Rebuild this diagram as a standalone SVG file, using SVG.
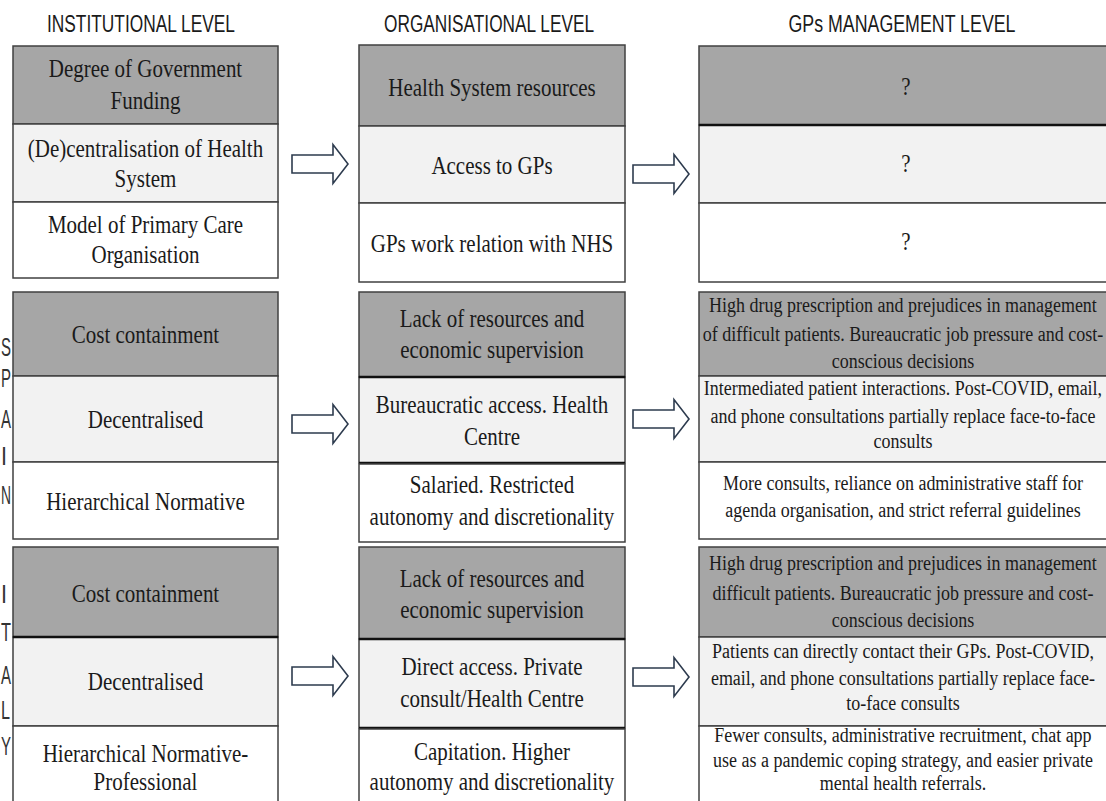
<svg xmlns="http://www.w3.org/2000/svg" width="1106" height="801" viewBox="0 0 1106 801">
<style>
.bg{fill:#ffffff}
.dk{fill:#a6a6a6;stroke:#404040;stroke-width:1.5}
.lt{fill:#f2f2f2;stroke:#404040;stroke-width:1.5}
.wh{fill:#ffffff;stroke:#404040;stroke-width:1.5}
.sep{stroke:#111111;stroke-width:2.5}
.hd{font-family:"Liberation Sans",Arial,sans-serif;font-size:23px;fill:#1a1a1a;text-anchor:middle}
.vl{font-family:"Liberation Sans",Arial,sans-serif;font-size:26px;fill:#333333;text-anchor:start}
.t{font-family:"Liberation Serif","Times New Roman",serif;font-size:21px;fill:#1a1a1a;text-anchor:middle;transform-box:fill-box;transform-origin:center;transform:scaleY(1.15)}
.s{font-family:"Liberation Serif","Times New Roman",serif;font-size:18px;fill:#1a1a1a;text-anchor:middle;transform-box:fill-box;transform-origin:center;transform:scaleY(1.2)}
.arr{fill:#ffffff;stroke:#2d3b4e;stroke-width:1.6;stroke-linejoin:miter}
</style>
<defs>
<path id="blk" class="arr" d="M0,-9 H41 V-19.5 L56,0 L41,19.5 V9 H0 Z"/>
</defs>
<rect class="bg" x="0" y="0" width="1106" height="801"/>

<g id="headers">
<text class="hd" x="141" y="32" textLength="188" lengthAdjust="spacingAndGlyphs">INSTITUTIONAL LEVEL</text>
<text class="hd" x="489" y="32" textLength="210" lengthAdjust="spacingAndGlyphs">ORGANISATIONAL LEVEL</text>
<text class="hd" x="902" y="32" textLength="227" lengthAdjust="spacingAndGlyphs">GPs MANAGEMENT LEVEL</text>
</g>

<g id="country-labels">
<text class="vl" x="1" y="356" textLength="10" lengthAdjust="spacingAndGlyphs">S</text>
<text class="vl" x="1" y="387" textLength="10" lengthAdjust="spacingAndGlyphs">P</text>
<text class="vl" x="1" y="428" textLength="10" lengthAdjust="spacingAndGlyphs">A</text>
<text class="vl" x="1" y="465" textLength="6" lengthAdjust="spacingAndGlyphs">I</text>
<text class="vl" x="1" y="504" textLength="10" lengthAdjust="spacingAndGlyphs">N</text>
<text class="vl" x="1" y="603" textLength="6" lengthAdjust="spacingAndGlyphs">I</text>
<text class="vl" x="1" y="641" textLength="10" lengthAdjust="spacingAndGlyphs">T</text>
<text class="vl" x="1" y="684" textLength="10" lengthAdjust="spacingAndGlyphs">A</text>
<text class="vl" x="1" y="719" textLength="9" lengthAdjust="spacingAndGlyphs">L</text>
<text class="vl" x="1" y="755" textLength="10" lengthAdjust="spacingAndGlyphs">Y</text>
</g>

<!-- Institutional level -->
<g id="inst-g1-funding">
<rect class="dk" x="13" y="46" width="265" height="78"/>
<text class="t" x="145.5" y="76">Degree of Government</text>
<text class="t" x="145.5" y="108">Funding</text>
</g>
<g id="inst-g1-decentral">
<rect class="lt" x="13" y="124" width="265" height="78"/>
<text class="t" x="145.5" y="156">(De)centralisation of Health</text>
<text class="t" x="145.5" y="186">System</text>
</g>
<g id="inst-g1-model">
<rect class="wh" x="13" y="202" width="265" height="76"/>
<text class="t" x="145.5" y="232">Model of Primary Care</text>
<text class="t" x="145.5" y="262">Organisation</text>
</g>

<g id="inst-g2-cost">
<rect class="dk" x="13" y="292" width="265" height="84"/>
<text class="t" x="145.5" y="342">Cost containment</text>
</g>
<g id="inst-g2-decentral">
<rect class="lt" x="13" y="376" width="265" height="86"/>
<text class="t" x="145.5" y="427">Decentralised</text>
</g>
<g id="inst-g2-model">
<rect class="wh" x="13" y="462" width="265" height="77"/>
<text class="t" x="145.5" y="509">Hierarchical Normative</text>
</g>

<g id="inst-g3-cost">
<rect class="dk" x="13" y="547" width="265" height="90"/>
<text class="t" x="145.5" y="601">Cost containment</text>
</g>
<g id="inst-g3-decentral">
<rect class="lt" x="13" y="637" width="265" height="89"/>
<line class="sep" x1="13" y1="637" x2="278" y2="637"/>
<text class="t" x="145.5" y="689">Decentralised</text>
</g>
<g id="inst-g3-model">
<rect class="wh" x="13" y="726" width="265" height="90"/>
<text class="t" x="145.5" y="761">Hierarchical Normative-</text>
<text class="t" x="145.5" y="789">Professional</text>
</g>

<!-- Organisational level -->
<g id="org-g1-resources">
<rect class="dk" x="359" y="45" width="266" height="81"/>
<text class="t" x="492" y="95">Health System resources</text>
</g>
<g id="org-g1-access">
<rect class="lt" x="359" y="126" width="266" height="77"/>
<text class="t" x="492" y="173">Access to GPs</text>
</g>
<g id="org-g1-relation">
<rect class="wh" x="359" y="203" width="266" height="79"/>
<text class="t" x="492" y="251">GPs work relation with NHS</text>
</g>

<g id="org-g2-resources">
<rect class="dk" x="359" y="292" width="266" height="85"/>
<text class="t" x="492" y="326">Lack of resources and</text>
<text class="t" x="492" y="357">economic supervision</text>
</g>
<g id="org-g2-access">
<rect class="lt" x="359" y="377" width="266" height="86"/>
<line class="sep" x1="359" y1="377" x2="625" y2="377"/>
<line class="sep" x1="359" y1="463" x2="625" y2="463"/>
<text class="t" x="492" y="412">Bureaucratic access. Health</text>
<text class="t" x="492" y="444">Centre</text>
</g>
<g id="org-g2-relation">
<rect class="wh" x="359" y="464" width="266" height="78"/>
<text class="t" x="492" y="492">Salaried. Restricted</text>
<text class="t" x="492" y="524">autonomy and discretionality</text>
</g>

<g id="org-g3-resources">
<rect class="dk" x="359" y="547" width="266" height="92"/>
<text class="t" x="492" y="586">Lack of resources and</text>
<text class="t" x="492" y="617">economic supervision</text>
</g>
<g id="org-g3-access">
<rect class="lt" x="359" y="639" width="266" height="89"/>
<line class="sep" x1="359" y1="639" x2="625" y2="639"/>
<line class="sep" x1="359" y1="728" x2="625" y2="728"/>
<text class="t" x="492" y="674">Direct access. Private</text>
<text class="t" x="492" y="706">consult/Health Centre</text>
</g>
<g id="org-g3-relation">
<rect class="wh" x="359" y="729" width="266" height="90"/>
<text class="t" x="492" y="759">Capitation. Higher</text>
<text class="t" x="492" y="789">autonomy and discretionality</text>
</g>

<!-- GPs management level -->
<g id="gp-g1-a">
<rect class="dk" x="699" y="46" width="425" height="79"/>
<text class="t" x="906" y="94">?</text>
</g>
<g id="gp-g1-b">
<rect class="lt" x="699" y="125" width="425" height="78"/>
<line class="sep" x1="699" y1="125" x2="1106" y2="125"/>
<text class="t" x="906" y="171">?</text>
</g>
<g id="gp-g1-c">
<rect class="wh" x="699" y="203" width="425" height="79"/>
<text class="t" x="906" y="249">?</text>
</g>

<g id="gp-g2-a">
<rect class="dk" x="699" y="292" width="425" height="84"/>
<text class="s" x="903" y="311">High drug prescription and prejudices in management</text>
<text class="s" x="903" y="340">of difficult patients. Bureaucratic job pressure and cost-</text>
<text class="s" x="903" y="367">conscious decisions</text>
</g>
<g id="gp-g2-b">
<rect class="lt" x="699" y="376" width="425" height="86"/>
<text class="s" x="903" y="394">Intermediated patient interactions. Post-COVID, email,</text>
<text class="s" x="903" y="422">and phone consultations partially replace face-to-face</text>
<text class="s" x="903" y="447">consults</text>
</g>
<g id="gp-g2-c">
<rect class="wh" x="699" y="462" width="425" height="77"/>
<text class="s" x="903" y="489">More consults, reliance on administrative staff for</text>
<text class="s" x="903" y="516">agenda organisation, and strict referral guidelines</text>
</g>

<g id="gp-g3-a">
<rect class="dk" x="699" y="547" width="425" height="90"/>
<text class="s" x="903" y="569">High drug prescription and prejudices in management</text>
<text class="s" x="903" y="599">difficult patients. Bureaucratic job pressure and cost-</text>
<text class="s" x="903" y="626">conscious decisions</text>
</g>
<g id="gp-g3-b">
<rect class="lt" x="699" y="637" width="425" height="89"/>
<text class="s" x="903" y="657">Patients can directly contact their GPs. Post-COVID,</text>
<text class="s" x="903" y="684">email, and phone consultations partially replace face-</text>
<text class="s" x="903" y="709">to-face consults</text>
</g>
<g id="gp-g3-c">
<rect class="wh" x="699" y="726" width="425" height="90"/>
<text class="s" x="903" y="741">Fewer consults, administrative recruitment, chat app</text>
<text class="s" x="903" y="766">use as a pandemic coping strategy, and easier private</text>
<text class="s" x="903" y="789">mental health referrals.</text>
</g>

<g id="connectors">
<use href="#blk" transform="translate(292,164)"/>
<use href="#blk" transform="translate(633,174)"/>
<use href="#blk" transform="translate(292,424)"/>
<use href="#blk" transform="translate(633,419)"/>
<use href="#blk" transform="translate(292,676)"/>
<use href="#blk" transform="translate(633,677)"/>
</g>
</svg>
